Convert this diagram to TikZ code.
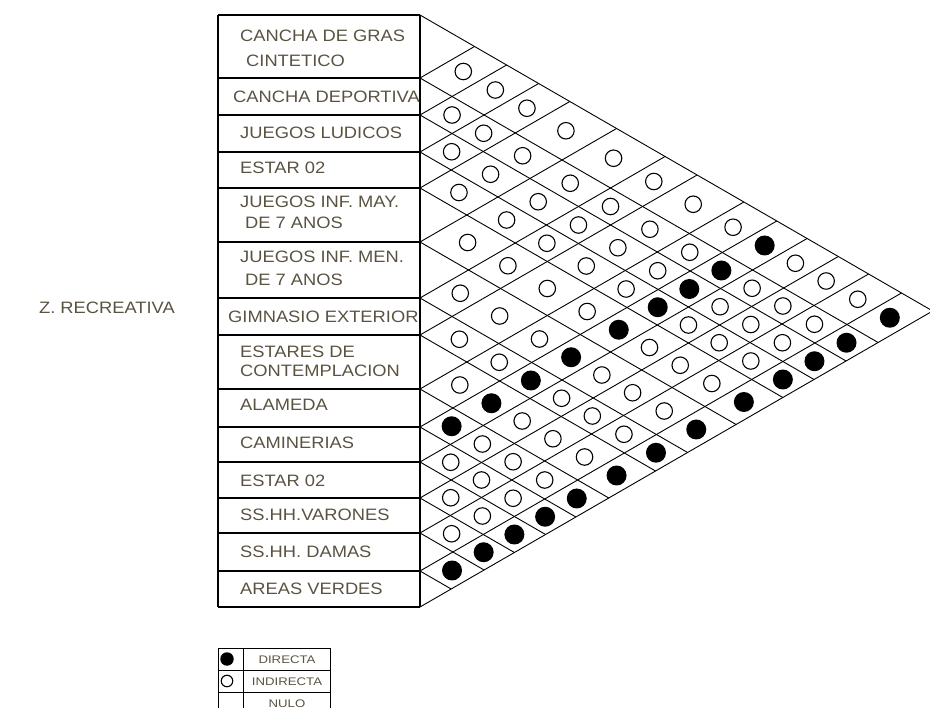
\documentclass[tikz,border=0pt]{standalone}
\usepackage{fontspec}
\setmainfont{Liberation Sans}[FakeStretch=1.11]
\newfontfamily\legfont{Liberation Sans}[FakeStretch=1.2]
\definecolor{txt}{RGB}{90,83,66}
\begin{document}
\begin{tikzpicture}[x=1pt,y=-1pt,
  grid/.style={line width=0.9pt,black},
  frame/.style={line width=1.2pt,black},
  lbl/.style={anchor=west,inner sep=0pt,text=txt,font=\fontsize{16.5}{19}\selectfont,text height=11.8pt,text depth=0pt},
  leglbl/.style={inner sep=0pt,text=txt,font=\legfont\fontsize{11}{12}\selectfont,text height=8pt,text depth=0pt},
  dirdot/.style={circle,fill=black,minimum size=20pt,inner sep=0pt},
  indot/.style={circle,draw=black,line width=1.1pt,fill=white,minimum size=16.5pt,inner sep=0pt},
  legdir/.style={circle,fill=black,minimum size=13.5pt,inner sep=0pt},
  legind/.style={circle,draw=black,line width=1.1pt,minimum size=11.5pt,inner sep=0pt}]
\useasboundingbox (0,0) rectangle (930,708);
% grid lines of the triangular matrix
\foreach \y [count=\k from 0] in {15,78,115,152,188,242,298,335,389,427,462,498,533,571,607} {
  \coordinate (b\k) at (420,\y);
  \coordinate (l\k) at (218,\y);
  \coordinate (d\k) at ({420+0.866*(607-\y)},{(\y+607)/2});
  \coordinate (u\k) at ({420+0.866*(\y-15)},{(\y+15)/2});
  \draw[grid] (b\k) -- (d\k);
  \draw[grid] (b\k) -- (u\k);
  \draw[frame] (l\k) -- (b\k);
}
\draw[frame] (l0) -- (l14);
\draw[frame] (b0) -- (b14);
% cells
\def\cen{{46.5,96.5,133.5,170,215,270,316.5,362,408,444.5,480,515.5,552,589}}
\foreach \a in {1,...,13} {
  \pgfmathtruncatemacro\bstart{\a+1}
  \foreach \b in {\bstart,...,14} {
    \pgfmathsetmacro\ya{\cen[\a-1]}
    \pgfmathsetmacro\yb{\cen[\b-1]}
    \pgfmathsetmacro\cx{420+0.866*(\yb-\ya)}
    \pgfmathsetmacro\cy{(\ya+\yb)/2}
    \pgfmathtruncatemacro\isdir{(\b==10)||(\b==14)}
    \ifnum\isdir=1
      \node[dirdot] (c-\a-\b) at (\cx,\cy) {};
    \else
      \node[indot] (c-\a-\b) at (\cx,\cy) {};
    \fi
  }
}
% row labels
\node[lbl] (r1) at (240,36) {CANCHA DE GRAS};
\node[lbl] (r1b) at (246,61) {CINTETICO};
\node[lbl] (r2) at (233,97) {CANCHA DEPORTIVA};
\node[lbl] (r3) at (240,133) {JUEGOS LUDICOS};
\node[lbl] (r4) at (240,168) {ESTAR 02};
\node[lbl] (r5) at (240,202) {JUEGOS INF. MAY.};
\node[lbl] (r5b) at (245,223) {DE 7 ANOS};
\node[lbl] (r6) at (240,257) {JUEGOS INF. MEN.};
\node[lbl] (r6b) at (245,280) {DE 7 ANOS};
\node[lbl] (r7) at (228,317) {GIMNASIO EXTERIOR};
\node[lbl] (r8) at (240,352) {ESTARES DE};
\node[lbl] (r8b) at (240,371) {CONTEMPLACION};
\node[lbl] (r9) at (240,405) {ALAMEDA};
\node[lbl] (r10) at (240,443) {CAMINERIAS};
\node[lbl] (r11) at (240,481) {ESTAR 02};
\node[lbl] (r12) at (240,515) {SS.HH.VARONES};
\node[lbl] (r13) at (240,552) {SS.HH. DAMAS};
\node[lbl] (r14) at (240,589) {AREAS VERDES};
\node[lbl,anchor=east] (zone) at (175,308) {Z. RECREATIVA};
% legend
\coordinate (g1) at (218,648);
\coordinate (g2) at (330,714);
\draw[frame,line width=1pt] (g1) rectangle (g2);
\coordinate (v1) at (243,648);
\coordinate (v2) at (243,714);
\draw[line width=1pt] (v1) -- (v2);
\coordinate (h1l) at (218,670); \coordinate (h1r) at (330,670);
\coordinate (h2l) at (218,692); \coordinate (h2r) at (330,692);
\draw[line width=1pt] (h1l) -- (h1r);
\draw[line width=1pt] (h2l) -- (h2r);
\node[legdir] (ld) at (227,659) {};
\node[legind] (li) at (227,681) {};
\node[leglbl] (tdir) at (287,659) {DIRECTA};
\node[leglbl] (tind) at (287,681) {INDIRECTA};
\node[leglbl] (tnul) at (287,703) {NULO};
\end{tikzpicture}
\end{document}
